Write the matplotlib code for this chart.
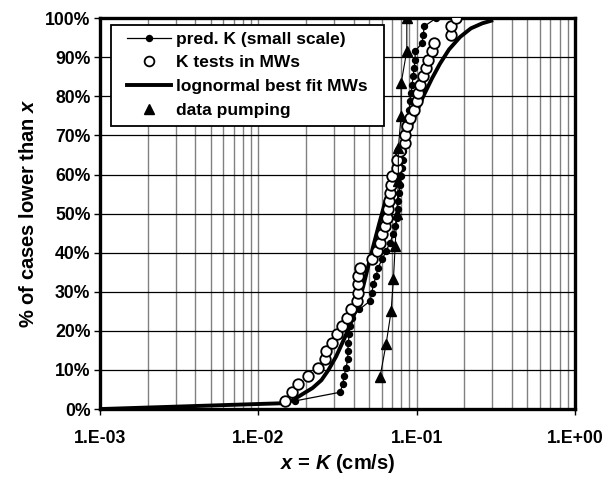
import matplotlib
matplotlib.use("Agg")
import matplotlib.pyplot as plt
from matplotlib.lines import Line2D
from matplotlib.patches import Rectangle
from matplotlib.ticker import LogLocator, FixedLocator, FuncFormatter, NullFormatter

plt.rcParams['font.family'] = 'Liberation Sans'
plt.rcParams['font.weight'] = 'bold'
plt.rcParams['mathtext.fontset'] = 'custom'
plt.rcParams['mathtext.it'] = 'Liberation Sans:italic:bold'
plt.rcParams['mathtext.rm'] = 'Liberation Sans:bold'

# K tests in MWs (open circles), cumulative share in %
k_tests_x = [0.0148, 0.0163, 0.0179, 0.0207, 0.0239, 0.0264, 0.0268, 0.0291, 0.0313,
             0.0336, 0.0362, 0.0385, 0.0418, 0.0428, 0.0428, 0.0428, 0.0439, 0.0520,
             0.0560, 0.0587, 0.0602, 0.0632, 0.0647, 0.0657, 0.0669, 0.0679, 0.0689,
             0.0696, 0.0749, 0.0749, 0.0786, 0.0845, 0.0845, 0.0866, 0.0909, 0.0963,
             0.1002, 0.1025, 0.1051, 0.1102, 0.1147, 0.1186, 0.1246, 0.1288, 0.1642,
             0.1642, 0.1774]
k_tests_y = [2.1, 4.3, 6.4, 8.5, 10.6, 12.8, 14.9, 17.0, 19.1, 21.3, 23.4, 25.5, 27.7,
             29.8, 31.9, 34.0, 36.2, 38.3, 40.4, 42.6, 44.7, 46.8, 48.9, 51.1, 53.2,
             55.3, 57.4, 59.6, 61.7, 63.8, 66.0, 68.1, 70.2, 72.3, 74.5, 76.6, 78.7,
             80.9, 83.0, 85.1, 87.2, 89.4, 91.5, 93.6, 95.7, 97.9, 100.0]

# predicted K (small scale)
pred_x = [0.0171, 0.0328, 0.0341, 0.0348, 0.0358, 0.0367, 0.0367, 0.0370, 0.0374,
          0.0380, 0.0389, 0.0435, 0.0508, 0.0520, 0.0533, 0.0554, 0.0570, 0.0605,
          0.0640, 0.0679, 0.0710, 0.0731, 0.0747, 0.0757, 0.0763, 0.0774, 0.0786,
          0.0797, 0.0809, 0.0815, 0.0821, 0.0833, 0.0845, 0.0857, 0.0882, 0.0895,
          0.0909, 0.0922, 0.0935, 0.0949, 0.0963, 0.0977, 0.0977, 0.1077, 0.1102,
          0.1113, 0.1326]
pred_y = k_tests_y

# lognormal best fit MWs
logn_x = [0.001, 0.0144, 0.0165, 0.0193, 0.0220, 0.0250, 0.0277, 0.0310, 0.0353,
          0.0390, 0.0428, 0.0460, 0.0490, 0.0530, 0.0580, 0.0632, 0.0700, 0.0766,
          0.0860, 0.0977, 0.1100, 0.1246, 0.1400, 0.1600, 0.1880, 0.2200, 0.2600,
          0.3040]
logn_y = [0.0, 1.5, 2.3, 4.0, 5.4, 7.4, 10.0, 13.5, 18.5, 22.8, 27.0, 31.5, 36.0,
          41.5, 47.5, 53.0, 59.0, 64.0, 69.5, 75.0, 80.0, 84.5, 88.3, 92.0, 95.2,
          97.4, 98.7, 99.5]

# data pumping
pump_x = [0.0587, 0.0641, 0.0689, 0.0713, 0.0731, 0.0749, 0.0766, 0.0765, 0.0797,
          0.0797, 0.0866, 0.0866]
pump_y = [8.3, 16.7, 25.0, 33.3, 41.7, 50.0, 58.3, 66.7, 75.0, 83.3, 91.7, 100.0]

x_ticks = [1e-3, 1e-2, 1e-1, 1.0]
x_tick_labels = ['1.E-03', '1.E-02', '1.E-01', '1.E+00']

fig = plt.figure(figsize=(6.11, 4.79), dpi=100)
ax = fig.add_axes([0.164, 0.146, 0.777, 0.816])

ax.plot(logn_x, logn_y, color='black', lw=2.8, zorder=3, solid_capstyle='butt')
ax.plot(pred_x, pred_y, color='black', lw=0.9, marker='o', ms=4.3, zorder=4)
ax.plot(k_tests_x, k_tests_y, ls='none', marker='o', ms=7.6, mfc='white', mec='black',
        mew=1.3, zorder=5)
ax.plot(pump_x, pump_y, color='black', lw=0.8, zorder=6)
ax.plot(pump_x, pump_y, ls='none', marker='^', ms=7.5, color='black', zorder=6)

ax.set_xscale('log')
ax.set_xlim(1e-3, 1.0)
ax.set_ylim(0, 100)

ax.xaxis.set_major_locator(FixedLocator(x_ticks))
ax.set_xticklabels(x_tick_labels)
ax.xaxis.set_minor_locator(LogLocator(base=10, subs=range(2, 10)))
ax.xaxis.set_minor_formatter(NullFormatter())
ax.yaxis.set_major_locator(FixedLocator(range(0, 101, 10)))
ax.yaxis.set_major_formatter(FuncFormatter(lambda v, p: '%d%%' % v))

ax.grid(True, which='major', axis='y', color='black', lw=0.9)
ax.grid(True, which='both', axis='x', color='#808080', lw=1.0)
ax.set_axisbelow(True)

ax.tick_params(axis='both', which='major', direction='out', length=4, width=1,
               labelsize=12.7, pad=3)
ax.tick_params(axis='x', which='major', pad=11)
ax.tick_params(axis='x', which='minor', length=0)
for lab in ax.get_xticklabels() + ax.get_yticklabels():
    lab.set_fontweight('bold')

for s in ax.spines.values():
    s.set_linewidth(2.4)

ax.set_xlabel('$x$ = $K$ (cm/s)', fontsize=14.5, fontweight='bold', labelpad=4)
ax.set_ylabel('% of cases lower than $x$', fontsize=14.5, fontweight='bold', labelpad=5)

# legend box drawn by hand so the inner padding matches
ax.add_patch(Rectangle((0.023, 0.724), 0.575, 0.258, transform=ax.transAxes,
                       facecolor='white', edgecolor='black', lw=1.3, zorder=9,
                       clip_on=False))
handles = [
    Line2D([], [], color='black', lw=0.9, marker='o', ms=4.3),
    Line2D([], [], ls='none', marker='o', ms=7, mfc='white', mec='black', mew=1.3),
    Line2D([], [], color='black', lw=2.8),
    Line2D([], [], ls='none', marker='^', ms=7.5, color='black'),
]
labels = ['pred. K (small scale)', 'K tests in MWs', 'lognormal best fit MWs', 'data pumping']
leg = ax.legend(handles, labels, loc='upper left', bbox_to_anchor=(0.057, 0.966),
                prop={'weight': 'bold', 'size': 12.5}, frameon=False,
                handlelength=2.5, handletextpad=0.3, labelspacing=0.5,
                borderpad=0.0, borderaxespad=0.0)
leg.set_zorder(10)

fig.savefig('out.png', dpi=100)
